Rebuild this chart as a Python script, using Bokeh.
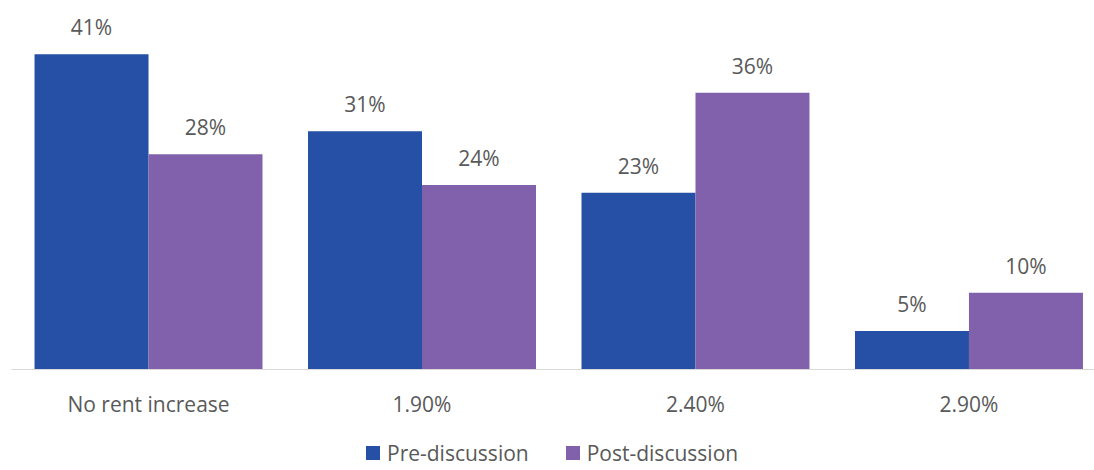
from bokeh.plotting import figure
from bokeh.models import (Range1d, FixedTicker, LabelSet, ColumnDataSource, Div)
from bokeh.layouts import column
from bokeh.core.properties import value
from bokeh.transform import dodge
from bokeh.embed import file_html
from bokeh.resources import INLINE

categories = ["No rent increase", "1.90%", "2.40%", "2.90%"]
pre_discussion = [41, 31, 23, 5]
post_discussion = [28, 24, 36, 10]
series_names = ["Pre-discussion", "Post-discussion"]

BLUE = "#2550a5"
PURPLE = "#8160ac"
TEXT = "#595959"
FONT = "Open Sans"
FS = "21px"

idx = list(range(len(categories)))
src = ColumnDataSource(dict(
    x=idx,
    pre=pre_discussion,
    post=post_discussion,
    pre_lbl=[f"{v}%" for v in pre_discussion],
    post_lbl=[f"{v}%" for v in post_discussion],
))

p = figure(width=1094, height=430, output_backend="svg",
           toolbar_location=None,
           x_range=Range1d(-0.501, 3.459), y_range=Range1d(0, 48.0),
           min_border_left=11, min_border_right=0, min_border_top=0,
           min_border_bottom=61)

bw = 0.4168
off = bw / 2
r1 = p.vbar(x=dodge("x", -off), top="pre", width=bw, source=src,
            fill_color=BLUE, line_color=None)
r2 = p.vbar(x=dodge("x", off), top="post", width=bw, source=src,
            fill_color=PURPLE, line_color=None)

for col, lbl, o in (("pre", "pre_lbl", -off), ("post", "post_lbl", off)):
    ls = LabelSet(x=dodge("x", o), y=col, text=lbl, source=src,
                  text_align="center", text_baseline="alphabetic", y_offset=19,
                  text_font=value(FONT), text_font_size=value(FS),
                  text_color=TEXT)
    p.add_layout(ls)

p.yaxis.visible = False
p.xgrid.visible = False
p.ygrid.visible = False
p.outline_line_color = None

ax = p.xaxis[0]
ax.ticker = FixedTicker(ticks=idx)
ax.major_label_overrides = {i: c for i, c in zip(idx, categories)}
ax.axis_line_color = "#d9d9d9"
ax.axis_line_width = 1
ax.major_tick_line_color = None
ax.major_tick_out = 0
ax.major_tick_in = 0
ax.minor_tick_line_color = None
ax.minor_tick_out = 0
ax.minor_tick_in = 0
ax.major_label_text_font = FONT
ax.major_label_text_font_size = FS
ax.major_label_text_color = TEXT
ax.major_label_standoff = 20

colors = [BLUE, PURPLE]
items_html = "".join(
    f'<span style="display:inline-flex;align-items:center;margin-right:37px;">'
    f'<span style="display:inline-block;width:14px;height:14px;background:{c};'
    f'margin-right:7px;"></span>{name}</span>'
    for name, c in zip(series_names, colors)
)
legend_div = Div(
    text=(f'<div style="display:flex;align-items:center;height:28px;'
          f'padding-left:366px;padding-top:17px;font-family:\'{FONT}\';'
          f'font-size:{FS};color:{TEXT};white-space:nowrap;line-height:28px;">'
          f'{items_html}</div>'),
    width=1094, height=40, margin=0)

layout = column(p, legend_div, spacing=0)

open("out.html", "w").write(file_html(layout, INLINE))
